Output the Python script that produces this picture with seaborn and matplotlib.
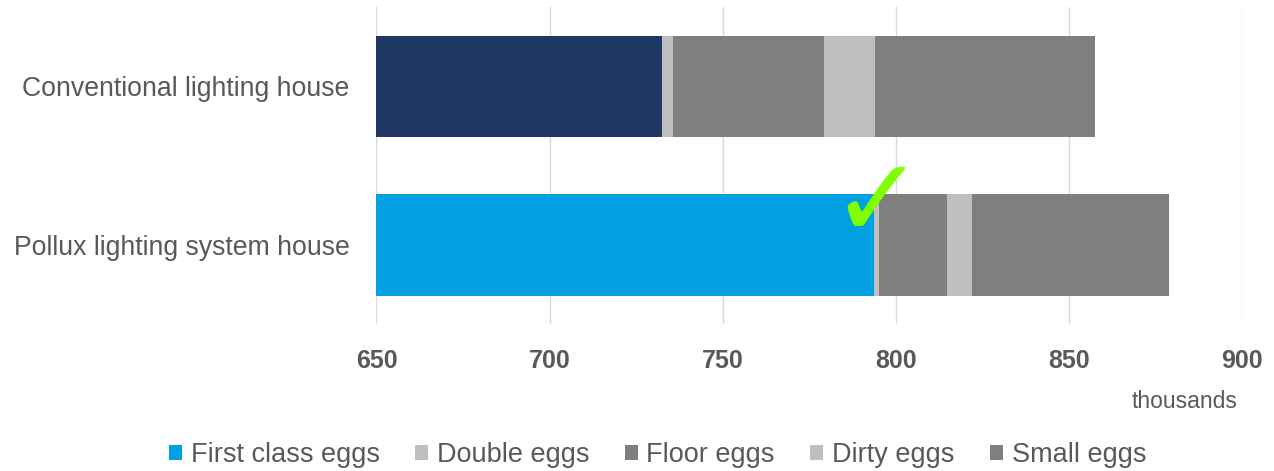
import numpy as np
import pandas as pd
import seaborn as sns
import matplotlib.pyplot as plt
from matplotlib.patches import Patch

# data (thousands of eggs)
houses = ["Conventional lighting house", "Pollux lighting system house"]
first_class = [732.6, 793.6]
double_eggs = [3.1, 1.6]
floor_eggs = [43.4, 19.7]
dirty_eggs = [15.0, 7.1]
small_eggs = [63.3, 56.8]

layers = ["First class eggs", "Double eggs", "Floor eggs", "Dirty eggs", "Small eggs"]
layer_colors = ["#00A0E3", "#BFBFBF", "#7F7F7F", "#BFBFBF", "#7F7F7F"]
first_colors = ["#1F3864", "#00A0E3"]

df = pd.DataFrame({"house": houses, "First class eggs": first_class,
                   "Double eggs": double_eggs, "Floor eggs": floor_eggs,
                   "Dirty eggs": dirty_eggs, "Small eggs": small_eggs})
cum = df[layers].cumsum(axis=1)

sns.set_theme(style="white")
plt.rcParams["font.family"] = ["Liberation Sans", "DejaVu Sans"]

fig = plt.figure(figsize=(12.74, 4.71), dpi=100)
ax = fig.add_axes([0.2955, 0.312, 0.6795, 0.673])

# stacked bars drawn back to front as cumulative totals
for name, col in reversed(list(zip(layers, layer_colors))):
    if name == "First class eggs":
        sns.barplot(x=cum[name], y=df["house"], hue=df["house"], palette=first_colors,
                    orient="h", width=0.64, linewidth=0, saturation=1,
                    legend=False, ax=ax)
    else:
        sns.barplot(x=cum[name], y=df["house"], color=col, orient="h",
                    width=0.64, linewidth=0, saturation=1, ax=ax)

ax.set_xlim(650, 900)
ax.set_ylim(1.5, -0.5)
ax.set_xticks([650, 700, 750, 800, 850, 900])
ax.grid(axis="x", color="#D9D9D9", linewidth=1)
ax.set_axisbelow(True)
for s in ax.spines.values():
    s.set_visible(False)
ax.set_xlabel("")
ax.set_ylabel("")
ax.tick_params(axis="x", length=0, pad=18, labelsize=18, labelcolor="#595959")
ax.tick_params(axis="y", length=0, pad=19.5, labelsize=19.2, labelcolor="#595959")
for t in ax.get_xticklabels():
    t.set_fontweight("bold")

fig.text(0.971, 0.148, "thousands", ha="right", va="center", fontsize=16.5, color="#595959")

# green check mark on the Pollux bar
ax.text(794.5, 0.76, "\u2713", ha="center", va="center", fontsize=80,
        color="#7FFF00", fontweight="bold", family=["DejaVu Sans"])

handles = [Patch(facecolor=c, edgecolor="none") for c in layer_colors]
fig.legend(handles, layers, loc="center", bbox_to_anchor=(0.516, 0.033), ncol=5,
           frameon=False, fontsize=19.5, handlelength=0.48, handleheight=0.48,
           handletextpad=0.33, columnspacing=1.3, labelcolor="#595959")

fig.savefig("out.png", dpi=100)
